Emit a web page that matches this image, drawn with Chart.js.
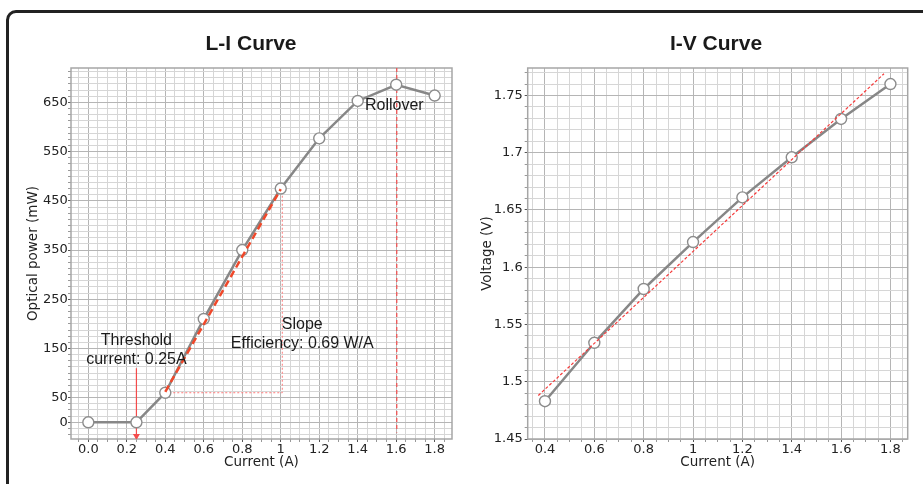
<!DOCTYPE html>
<html><head><meta charset="utf-8">
<script src="https://cdn.jsdelivr.net/npm/chart.js@4.4.0/dist/chart.umd.min.js"></script>
<style>
html,body{margin:0;padding:0;background:#fff;width:923px;height:484px;overflow:hidden;}
#frame{position:absolute;left:6px;top:10px;width:1000px;height:600px;border:3px solid #222;border-radius:10px;box-sizing:border-box;}
#c1{position:absolute;left:0;top:0;}
#c2{position:absolute;left:470px;top:0;}
</style></head><body>
<div id="frame"></div>
<canvas id="c1" width="470" height="484"></canvas>
<canvas id="c2" width="453" height="484"></canvas>
<script>
// ---------- L-I curve data ----------
const liCurrent = [0, 0.25, 0.4, 0.6, 0.8, 1.0, 1.2, 1.4, 1.6, 1.8];
const liPower   = [0, 0, 60, 210, 350, 475, 577, 653, 686, 664];
const liSlopeX  = [0.4, 1.0];
const liSlopeY  = [62, 474];
const liGuideX  = [0.4, 1.008, 1.008];
const liGuideY  = [60, 60, 475];
const liRollX   = [1.603, 1.603];
const liRollY   = [720, -21];
const liArrowX  = [0.25, 0.25];
const liArrowY  = [110, -28];
const liXTicks  = [0, 0.2, 0.4, 0.6, 0.8, 1.0, 1.2, 1.4, 1.6, 1.8];
const liXLabels = ['0.0','0.2','0.4','0.6','0.8','1','1.2','1.4','1.6','1.8'];
const liYTicks  = [0, 50, 150, 250, 350, 450, 550, 650];
const liYLabels = ['0','50','150','250','350','450','550','650'];
const liXRange  = [-0.09, 1.89];
const liYRange  = [-34, 720];
const liXMinor  = 0.05;
const liYMinor  = 12.5;

// ---------- I-V curve data ----------
const ivCurrent = [0.4, 0.6, 0.8, 1.0, 1.2, 1.4, 1.6, 1.8];
const ivVoltage = [1.483, 1.534, 1.581, 1.622, 1.661, 1.696, 1.7295, 1.760];
const ivFitX    = [0.373, 1.774];
const ivFitY    = [1.488, 1.769];
const ivXTicks  = [0.4, 0.6, 0.8, 1.0, 1.2, 1.4, 1.6, 1.8];
const ivXLabels = ['0.4','0.6','0.8','1','1.2','1.4','1.6','1.8'];
const ivYTicks  = [1.45, 1.5, 1.55, 1.6, 1.65, 1.7, 1.75];
const ivYLabels = ['1.45','1.5','1.55','1.6','1.65','1.7','1.75'];
const ivXRange  = [0.33, 1.87];
const ivYRange  = [1.45, 1.774];
const ivXMinor  = 0.05;
const ivYMinor  = 0.01;

// ---------- text ----------
const liTitle = 'L-I Curve';
const ivTitle = 'I-V Curve';
const liNotes = [
  {x: 0.25, y: 127.6, lines: ['Threshold', 'current: 0.25A']},
  {x: 1.112, y: 160.2, lines: ['Slope', 'Efficiency: 0.69 W/A']},
  {x: 1.59, y: 644.5, lines: ['Rollover']}
];

const pts = (xs, ys) => xs.map((x, i) => ({x, y: ys[i]}));
const near = (a, b) => Math.abs(a - b) < 1e-7;

function tickList(range, step, majors) {
  const out = [];
  const i0 = Math.ceil(range[0] / step - 1e-9), i1 = Math.floor(range[1] / step + 1e-9);
  for (let i = i0; i <= i1; i++) out.push(+(i * step).toFixed(6));
  majors.forEach(m => { if (!out.some(v => near(v, m))) out.push(m); });
  return out.sort((a, b) => a - b);
}

function axis(range, step, majors, labels, pad, opts) {
  return Object.assign({
    type: 'linear',
    min: range[0], max: range[1],
    afterBuildTicks: s => { s.ticks = tickList(range, step, majors).map(v => ({value: v})); },
    ticks: {
      autoSkip: false, maxRotation: 0, minRotation: 0, padding: pad,
      color: '#222',
      font: {family: 'DejaVu Sans', size: 13},
      callback: v => { const k = majors.findIndex(m => near(m, v)); return k >= 0 ? labels[k] : ''; }
    },
    grid: {
      color: c => (c.tick && majors.some(m => near(m, c.tick.value))) ? '#b5b5b5' : '#d6d6d6',
      tickColor: c => (c.tick && majors.some(m => near(m, c.tick.value))) ? '#555' : '#999',
      lineWidth: 1, tickLength: 3, drawTicks: true
    },
    border: {display: false}
  }, opts);
}

const framePlugin = {
  id: 'frame',
  beforeDatasetsDraw(chart) {
    const a = chart.chartArea, ctx = chart.ctx;
    ctx.save(); ctx.strokeStyle = '#a6a6a6'; ctx.lineWidth = 1.5;
    ctx.strokeRect(a.left, a.top, a.right - a.left, a.bottom - a.top);
    ctx.restore();
  }
};
const titlePlugin = {
  id: 'ctitle',
  afterDraw(chart, args, o) {
    const ctx = chart.ctx; ctx.save();
    ctx.font = 'bold 21px "Liberation Sans", Arial, sans-serif';
    ctx.fillStyle = '#1a1a1a'; ctx.textAlign = 'center'; ctx.textBaseline = 'middle';
    ctx.fillText(o.text, o.x, o.y); ctx.restore();
  }
};
const notePlugin = {
  id: 'notes',
  afterDatasetsDraw(chart, args, o) {
    if (!o.items) return;
    const ctx = chart.ctx, sx = chart.scales.x, sy = chart.scales.y;
    ctx.save();
    ctx.font = '16px "Liberation Sans", Arial, sans-serif';
    ctx.fillStyle = '#1a1a1a'; ctx.textAlign = 'center'; ctx.textBaseline = 'middle';
    o.items.forEach(n => {
      const px = sx.getPixelForValue(n.x), py = sy.getPixelForValue(n.y);
      const L = n.lines.length;
      n.lines.forEach((t, i) => ctx.fillText(t, px, py - (L - 1 - i) * 19));
    });
    ctx.restore();
  }
};

const mainStyle = {
  showLine: true, borderColor: '#878787', borderWidth: 2.5, tension: 0,
  pointRadius: 5.5, pointHoverRadius: 5.5, pointBackgroundColor: '#fff',
  pointBorderColor: '#8c8c8c', pointBorderWidth: 1.4
};
const lineStyle = (color, width, dash) => ({
  showLine: true, borderColor: color, borderWidth: width, borderDash: dash,
  pointRadius: 0, tension: 0, fill: false
});
const axTitle = (text, padding) => ({display: true, text, color: '#222',
  font: {family: 'DejaVu Sans', size: 13.5}, padding});

new Chart(document.getElementById('c1'), {
  type: 'scatter',
  data: {datasets: [
    Object.assign({data: pts(liCurrent, liPower), order: 2}, mainStyle),
    Object.assign({data: pts(liGuideX, liGuideY), order: 3}, lineStyle('#ff7a7a', 1, [2, 2])),
    Object.assign({data: pts(liRollX, liRollY), order: 3}, lineStyle('#f44b4b', 1.2, [4, 3])),
    Object.assign({data: pts(liArrowX, liArrowY), order: 3}, lineStyle('#f44b4b', 1.2, []),
      {pointRadius: [0, 4], pointStyle: 'triangle', rotation: 180,
       pointBackgroundColor: '#f44b4b', pointBorderColor: '#f44b4b', pointBorderWidth: 0}),
    Object.assign({data: pts(liSlopeX, liSlopeY), order: 1}, lineStyle('#f0482a', 2.5, [7, 4]))
  ]},
  options: {
    responsive: false, animation: false, devicePixelRatio: 1,
    layout: {padding: {left: 0, top: 68, right: 18, bottom: 0}},
    plugins: {legend: {display: false}, tooltip: {enabled: false},
      ctitle: {text: liTitle, x: 251, y: 44}, notes: {items: liNotes}},
    scales: {
      x: axis(liXRange, liXMinor, liXTicks, liXLabels, 0, {
        afterFit: s => { s.height = 45; },
        title: axTitle('Current (A)', {top: 0, bottom: 13.6})
      }),
      y: axis(liYRange, liYMinor, liYTicks, liYLabels, 0.3, {
        afterFit: s => { s.width = 71; },
        title: axTitle('Optical power (mW)', {top: 25, bottom: 0})
      })
    }
  },
  plugins: [framePlugin, titlePlugin, notePlugin]
});

new Chart(document.getElementById('c2'), {
  type: 'scatter',
  data: {datasets: [
    Object.assign({data: pts(ivCurrent, ivVoltage), order: 2}, mainStyle),
    Object.assign({data: pts(ivFitX, ivFitY), order: 1}, lineStyle('#f53b3b', 1.2, [3, 2]))
  ]},
  options: {
    responsive: false, animation: false, devicePixelRatio: 1,
    layout: {padding: {left: 0, top: 68, right: 15.3, bottom: 0}},
    plugins: {legend: {display: false}, tooltip: {enabled: false},
      ctitle: {text: ivTitle, x: 246, y: 44}, notes: {items: []}},
    scales: {
      x: axis(ivXRange, ivXMinor, ivXTicks, ivXLabels, 0, {
        afterFit: s => { s.height = 45; },
        title: axTitle('Current (A)', {top: 0, bottom: 13.6})
      }),
      y: axis(ivYRange, ivYMinor, ivYTicks, ivYLabels, 2, {
        afterFit: s => { s.width = 57.7; },
        title: axTitle('Voltage (V)', {top: 9, bottom: 0})
      })
    }
  },
  plugins: [framePlugin, titlePlugin, notePlugin]
});
</script>
</body></html>
